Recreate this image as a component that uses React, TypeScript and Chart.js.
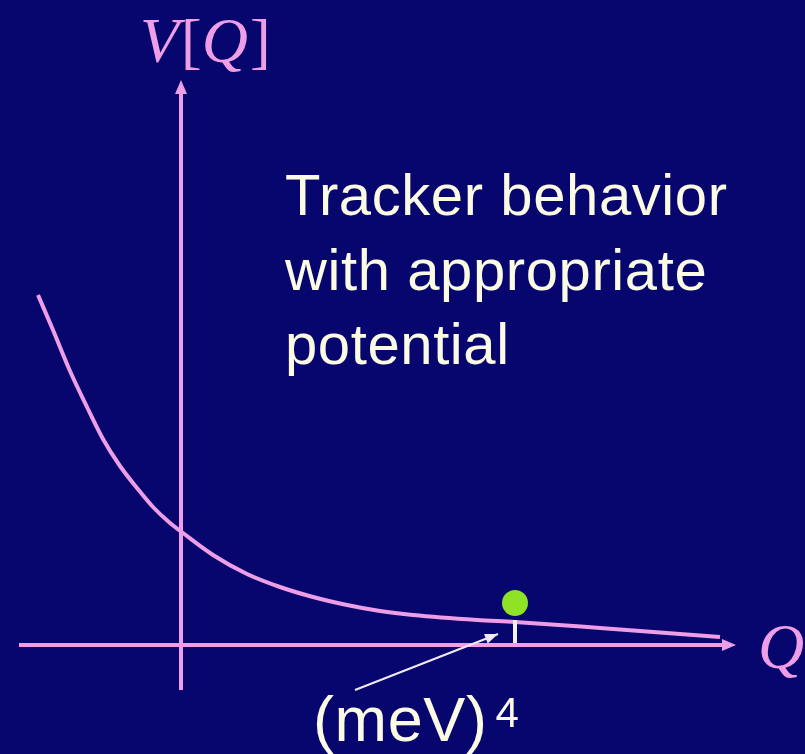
import React, { useEffect, useRef } from "react";
import { Chart, registerables } from "chart.js";

Chart.register(...registerables);

// Potential curve V(Q) (arbitrary units)
const curveQ = [-1.43, -1.28, -1.11, -0.94, -0.78, -0.61, -0.44, -0.28, -0.11, 0.02, 0.32, 0.66, 0.99, 1.32, 1.66, 1.99, 2.32, 2.96, 3.34, 4.19, 5.39];
const curveV = [3.5, 3.15, 2.74, 2.38, 2.06, 1.79, 1.57, 1.38, 1.22, 1.12, 0.9, 0.71, 0.58, 0.48, 0.4, 0.34, 0.3, 0.25, 0.23, 0.17, 0.08];

// Axis extents
const qAxisRange = [-1.62, 5.45];
const vAxisRange = [-0.45, 5.55];

// Field (ball) position and its present-day energy marker
const ballQ = [3.34];
const ballV = [0.42];
const stemV = [0.02, 0.25];

// Pointer from the "(meV)^4" label to the marker
const pointerQ = [1.74, 3.17];
const pointerV = [-0.45, 0.11];

const titleLines = ["Tracker behavior", "with appropriate", "potential"];
const xLabel = "Q";
const energyLabel = "(meV)";
const energyExp = "4";

const BG = "#06066e";
const PINK = "#ee9ee6";
const CREAM = "#fbfbe4";

function arrowHead(ctx: CanvasRenderingContext2D, x0: number, y0: number, x1: number, y1: number, len: number, half: number, color: string) {
  const a = Math.atan2(y1 - y0, x1 - x0);
  ctx.save();
  ctx.fillStyle = color;
  ctx.beginPath();
  ctx.moveTo(x1, y1);
  ctx.lineTo(x1 - len * Math.cos(a) + half * Math.sin(a), y1 - len * Math.sin(a) - half * Math.cos(a));
  ctx.lineTo(x1 - len * Math.cos(a) - half * Math.sin(a), y1 - len * Math.sin(a) + half * Math.cos(a));
  ctx.closePath();
  ctx.fill();
  ctx.restore();
}

const decorPlugin = {
  id: "decor",
  beforeDraw(chart: any) {
    const ctx = chart.ctx;
    ctx.save();
    ctx.fillStyle = BG;
    ctx.fillRect(0, 0, chart.width, chart.height);
    ctx.restore();
  },
  afterDraw(chart: any) {
    const ctx: CanvasRenderingContext2D = chart.ctx;
    const xs = chart.scales.x;
    const ys = chart.scales.y;
    // axis arrowheads
    arrowHead(ctx, xs.getPixelForValue(qAxisRange[0]), ys.getPixelForValue(0), xs.getPixelForValue(qAxisRange[1]) + 10, ys.getPixelForValue(0), 14, 6, PINK);
    arrowHead(ctx, xs.getPixelForValue(0), ys.getPixelForValue(vAxisRange[0]), xs.getPixelForValue(0), ys.getPixelForValue(vAxisRange[1]) - 10, 14, 6, PINK);
    // pointer arrowhead
    arrowHead(ctx, xs.getPixelForValue(pointerQ[0]), ys.getPixelForValue(pointerV[0]), xs.getPixelForValue(pointerQ[1]), ys.getPixelForValue(pointerV[1]), 13, 5, "#f2eaf2");

    ctx.save();
    ctx.textBaseline = "alphabetic";
    ctx.textAlign = "left";
    // title text
    ctx.fillStyle = CREAM;
    (ctx as any).letterSpacing = "0.6px";
    ctx.font = "58px 'Liberation Sans', Arial, sans-serif";
    const baselines = [215, 290, 364];
    titleLines.forEach((t, i) => ctx.fillText(t, 285, baselines[i]));
    // energy label
    ctx.font = "63px 'Liberation Sans', Arial, sans-serif";
    ctx.fillText(energyLabel, 313, 741);
    const w = ctx.measureText(energyLabel).width;
    ctx.font = "42px 'Liberation Sans', Arial, sans-serif";
    ctx.fillText(energyExp, 313 + w + 8, 727);
    (ctx as any).letterSpacing = "0px";
    // axis labels: V[Q]
    ctx.fillStyle = PINK;
    ctx.font = "italic 64px 'Liberation Serif', 'Times New Roman', serif";
    ctx.fillText("V", 140, 62);
    const vw = ctx.measureText("V").width;
    ctx.font = "62px 'Liberation Serif', 'Times New Roman', serif";
    ctx.fillText("[", 140 + vw + 2, 62);
    const bw = ctx.measureText("[").width;
    ctx.font = "italic 64px 'Liberation Serif', 'Times New Roman', serif";
    ctx.fillText("Q", 140 + vw + 2 + bw, 62);
    const qw = ctx.measureText("Q").width;
    ctx.font = "62px 'Liberation Serif', 'Times New Roman', serif";
    ctx.fillText("]", 140 + vw + 2 + bw + qw + 2, 62);
    ctx.font = "italic 64px 'Liberation Serif', 'Times New Roman', serif";
    ctx.fillText(xLabel, 758, 668);
    ctx.restore();
  },
};

export default function App() {
  const ref = useRef<HTMLCanvasElement>(null);
  useEffect(() => {
    if (!ref.current) return;
    const chart = new Chart(ref.current, {
      type: "scatter",
      data: {
        datasets: [
          {
            label: "ball",
            data: ballQ.map((q, i) => ({ x: q, y: ballV[i] })),
            pointRadius: 13,
            pointBackgroundColor: "#8fe326",
            pointBorderColor: "#8fe326",
            pointBorderWidth: 0,
            showLine: false,
            order: 0,
          },
          {
            label: "stem",
            data: stemV.map((v) => ({ x: ballQ[0], y: v })),
            borderColor: "#f4f0e8",
            borderWidth: 4,
            pointRadius: 0,
            showLine: true,
            order: 1,
          },
          {
            label: "pointer",
            data: pointerQ.map((q, i) => ({ x: q, y: pointerV[i] })),
            borderColor: "#f2eaf2",
            borderWidth: 2,
            pointRadius: 0,
            showLine: true,
            order: 1,
          },
          {
            label: "V(Q)",
            data: curveQ.map((q, i) => ({ x: q, y: curveV[i] })),
            borderColor: PINK,
            borderWidth: 4,
            pointRadius: 0,
            showLine: true,
            cubicInterpolationMode: "monotone",
            order: 2,
          },
          {
            label: "Q axis",
            data: qAxisRange.map((q) => ({ x: q, y: 0 })),
            borderColor: PINK,
            borderWidth: 4,
            pointRadius: 0,
            showLine: true,
            order: 3,
          },
          {
            label: "V axis",
            data: vAxisRange.map((v) => ({ x: 0, y: v })),
            borderColor: PINK,
            borderWidth: 4,
            pointRadius: 0,
            showLine: true,
            order: 3,
          },
        ],
      },
      options: {
        animation: false,
        responsive: false,
        maintainAspectRatio: false,
        layout: { padding: 0, autoPadding: false },
        plugins: { legend: { display: false }, tooltip: { enabled: false } },
        scales: {
          x: { type: "linear", min: -1.81, max: 6.24, display: false },
          y: { type: "linear", min: -1.09, max: 6.45, display: false },
        },
      },
      plugins: [decorPlugin],
    });
    return () => chart.destroy();
  }, []);
  return (
    <div style={{ position: "fixed", left: 0, top: 0, width: 805, height: 754, background: BG }}>
      <canvas ref={ref} width={805} height={754} style={{ display: "block", width: 805, height: 754 }} />
    </div>
  );
}
